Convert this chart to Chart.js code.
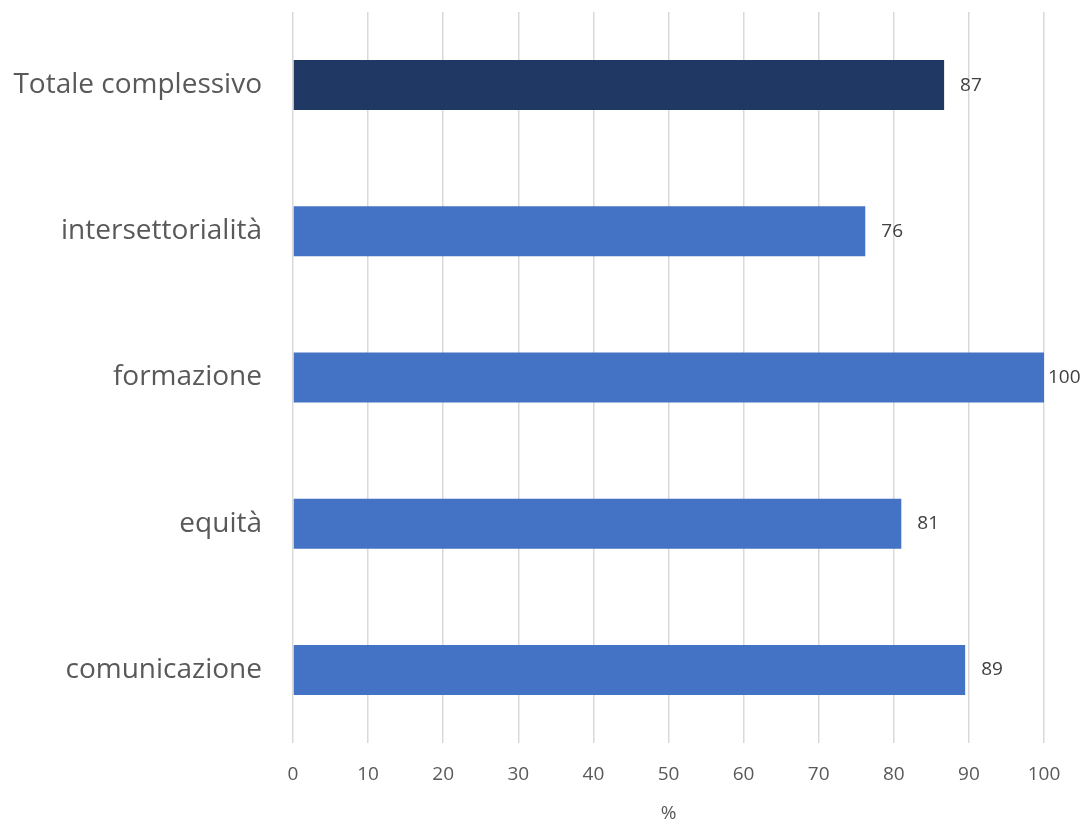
<!DOCTYPE html>
<html>
<head>
<meta charset="utf-8">
<script src="https://cdn.jsdelivr.net/npm/chart.js@4"></script>
<style>
  html, body { margin: 0; padding: 0; background: #fff; }
  #wrap { width: 1087px; height: 822px; position: relative; }
</style>
</head>
<body>
<div id="wrap"><canvas id="grafico"></canvas></div>
<script>
// dati
const categorie = ['Totale complessivo', 'intersettorialità', 'formazione', 'equità', 'comunicazione'];
const valori = [86.7, 76.2, 100, 81, 89.5];
const etichette = ['87', '76', '100', '81', '89'];
const colori = ['#203864', '#4472C4', '#4472C4', '#4472C4', '#4472C4'];
const tickX = [0, 10, 20, 30, 40, 50, 60, 70, 80, 90, 100];

const font = "'Open Sans', 'Liberation Sans', sans-serif";

// etichette dei valori a destra delle barre
const etichetteValori = {
    id: 'etichetteValori',
    afterDatasetsDraw(chart) {
        const ctx = chart.ctx;
        const meta = chart.getDatasetMeta(0);
        ctx.save();
        ctx.font = '19px ' + font;
        ctx.fillStyle = '#404040';
        ctx.textBaseline = 'middle';
        ctx.textAlign = 'left';
        meta.data.forEach((bar, i) => {
            const testo = etichette[i];
            const w = ctx.measureText(testo).width;
            let x = bar.x + 16;
            if (x + w > chart.width - 3) x = bar.x + 4;
            ctx.fillText(testo, x, bar.y);
        });
        ctx.restore();
    }
};

new Chart(document.getElementById('grafico'), {
    type: 'bar',
    data: {
        labels: categorie,
        datasets: [{
            data: valori,
            backgroundColor: colori,
            borderWidth: 0,
            categoryPercentage: 0.342,
            barPercentage: 1
        }]
    },
    options: {
        indexAxis: 'y',
        responsive: true,
        maintainAspectRatio: false,
        animation: false,
        layout: { padding: { top: 12, right: 43, left: 0, bottom: 0 } },
        plugins: { legend: { display: false }, tooltip: { enabled: false } },
        scales: {
            x: {
                min: 0, max: 100,
                afterBuildTicks: s => { s.ticks = tickX.map(v => ({ value: v })); },
                afterFit: s => { s.height = 79; s.paddingLeft = 0; s.paddingRight = 0; },
                grid: { color: '#d9d9d9', lineWidth: 1.5, drawTicks: false },
                border: { display: false },
                ticks: { color: '#595959', font: { size: 19, family: font }, padding: 20 },
                title: { display: true, text: '%', color: '#595959', font: { size: 19, family: font }, padding: { top: 9, bottom: -3 } }
            },
            y: {
                afterFit: s => { s.width = 293; s.paddingTop = 0; s.paddingBottom = 0; },
                grid: { display: false, drawTicks: false },
                border: { display: false },
                ticks: { color: '#595959', font: { size: 28, family: font }, padding: 31 }
            }
        }
    },
    plugins: [etichetteValori]
});
</script>
</body>
</html>
